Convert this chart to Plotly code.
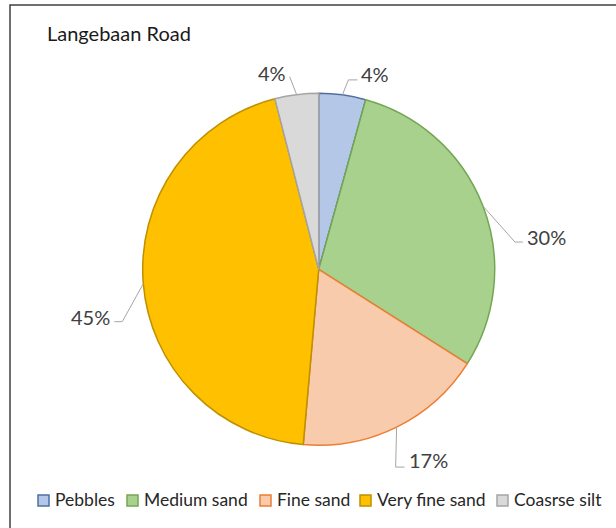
import math
import plotly.graph_objects as go

# ---------------- data ----------------
title_text = "Langebaan Road"
categories = ["Pebbles", "Medium sand", "Fine sand", "Very fine sand", "Coasrse silt"]
values = [4.3, 29.7, 17.4, 44.6, 4.0]

# ---------------- styles ----------------
fill_colors = ["#B4C7E7", "#A9D18E", "#F8CBAD", "#FFC000", "#D9D9D9"]
line_colors = ["#4F6FA3", "#74A653", "#ED7D31", "#BF9000", "#A5A5A5"]

W, H = 616, 528
CX, CY, R = 318.7, 269.3, 176.0          # pie centre / radius in pixels
FONT = "Lato"

# leader-line styles per slice: elbow offset (dx, dy) from anchor, horizontal tail, text side, text dy
leader_style = [
    (6, -15, 9, "left", -6),
    (32, 36, 8, "left", -5),
    (-1, 40, 9, "left", -7),
    (-21, 38, -8, "right", -5),
    (-7, -18, 0, "right", -4),
]
# legend item left edges (pixels) and vertical centre
legend_x = [38, 127, 260, 360, 497]
legend_y = 500.5
legend_box = 11


def px(x):
    return x / W


def py(y):
    return 1 - y / H


fig = go.Figure()
fig.add_trace(go.Pie(
    labels=categories,
    values=values,
    sort=False,
    direction="clockwise",
    rotation=0,
    textinfo="none",
    hoverinfo="label+percent",
    showlegend=False,
    marker=dict(colors=fill_colors, line=dict(color=line_colors, width=1.5)),
    domain=dict(x=[px(CX - R), px(CX + R)], y=[py(CY + R), py(CY - R)]),
))

shapes = []
annotations = []

# outer chart border
shapes.append(dict(type="rect", xref="paper", yref="paper",
                   x0=px(10), y0=py(H + 20), x1=px(W + 20), y1=py(5),
                   line=dict(color="#404040", width=1.5), fillcolor="rgba(0,0,0,0)"))

# title
annotations.append(dict(text=title_text, xref="paper", yref="paper",
                        x=px(45), y=py(33), xanchor="left", yanchor="middle",
                        showarrow=False, font=dict(family=FONT, size=20, color="#1a1a1a")))

# data labels with leader lines (anchor from slice mid-angle)
total = sum(values)
cum = 0.0
for i, v in enumerate(values):
    mid = (cum + v / 2) / total * 2 * math.pi
    cum += v
    ax_ = CX + R * math.sin(mid)
    ay_ = CY - R * math.cos(mid)
    dx, dy, tail, side, tdy = leader_style[i]
    ex, ey = ax_ + dx, ay_ + dy
    tx = ex + tail
    path = f"M {px(ax_)},{py(ay_)} L {px(ex)},{py(ey)} L {px(tx)},{py(ey)}"
    shapes.append(dict(type="path", xref="paper", yref="paper", path=path,
                       line=dict(color="#A6A6A6", width=1)))
    label = f"{round(v / total * 100)}%"
    annotations.append(dict(text=label, xref="paper", yref="paper",
                            x=px(tx + (2 if side == "left" else -2)), y=py(ey + tdy),
                            xanchor=side, yanchor="middle", showarrow=False,
                            font=dict(family=FONT, size=20, color="#404040")))

# legend (custom, Excel style)
for i, name in enumerate(categories):
    x0 = legend_x[i]
    shapes.append(dict(type="rect", xref="paper", yref="paper",
                       x0=px(x0), x1=px(x0 + legend_box),
                       y0=py(legend_y + legend_box / 2), y1=py(legend_y - legend_box / 2),
                       fillcolor=fill_colors[i], line=dict(color=line_colors[i], width=1.5)))
    annotations.append(dict(text=name, xref="paper", yref="paper",
                            x=px(x0 + legend_box + 4), y=py(legend_y - 1),
                            xanchor="left", yanchor="middle", showarrow=False,
                            font=dict(family=FONT, size=17.5, color="#262626")))

fig.update_layout(
    width=W, height=H,
    margin=dict(l=0, r=0, t=0, b=0),
    paper_bgcolor="white",
    plot_bgcolor="white",
    shapes=shapes,
    annotations=annotations,
    showlegend=False,
)

fig.write_html("out.html")
